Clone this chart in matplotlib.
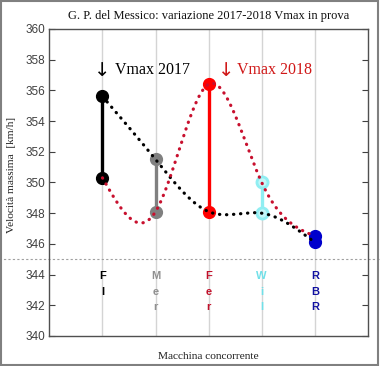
import numpy as np
import matplotlib
matplotlib.use("Agg")
import matplotlib.pyplot as plt
from matplotlib.patches import Rectangle

# dati
teams     = ["FI", "Mer", "Fer", "Wil", "RBR"]
colori    = ["#000000", "#808080", "#ff0000", "#90eef2", "#0000cc"]
label_col = ["#000000", "#909090", "#c0102a", "#70e0e8", "#1010a0"]
v2017     = [355.6, 351.5, 348.1, 348.0, 346.1]
v2018     = [350.3, 348.1, 356.4, 350.0, 346.5]

SERIF = ["Liberation Serif", "DejaVu Serif"]
SANS  = "Liberation Sans"


def spline_nat(x, y, xs):
    # spline cubica naturale (derivata seconda nulla agli estremi)
    x = np.asarray(x, float); y = np.asarray(y, float)
    n = len(x)
    h = np.diff(x)
    A = np.zeros((n, n)); b = np.zeros(n)
    A[0, 0] = A[-1, -1] = 1
    for i in range(1, n-1):
        A[i, i-1] = h[i-1]; A[i, i] = 2*(h[i-1]+h[i]); A[i, i+1] = h[i]
        b[i] = 6*((y[i+1]-y[i])/h[i] - (y[i]-y[i-1])/h[i-1])
    M = np.linalg.solve(A, b)
    k = np.clip(np.searchsorted(x, xs) - 1, 0, n-2)
    hk = h[k]; a = x[k+1] - xs; c = xs - x[k]
    return (M[k]*a**3 + M[k+1]*c**3)/(6*hk) + (y[k]/hk - M[k]*hk/6)*a \
        + (y[k+1]/hk - M[k+1]*hk/6)*c


fig = plt.figure(figsize=(3.8, 3.66), dpi=100)
ax = fig.add_axes([0.130, 0.082, 0.838, 0.839])

xp = np.arange(1, len(teams)+1)
xs = np.linspace(1, len(teams), 300)

for xi in xp:
    ax.axvline(xi, color="#d4d4d4", lw=1.0, zorder=0)

ax.plot([-1, 7], [345, 345], color="#a0a0a0", lw=0.8, ls=(0, (2, 2)),
        clip_on=False, zorder=1)

for xi, a, b_, c in zip(xp, v2017, v2018, colori):
    ax.plot([xi, xi], [a, b_], color=c, lw=2.4, zorder=2)
    if c == "#90eef2":
        ax.plot([xi, xi], [a, b_], "o", ms=8, mfc="#c4f6f8", mec=c, mew=2, zorder=3)
    else:
        ax.plot([xi, xi], [a, b_], "o", ms=8.5, color=c, zorder=3)

dot = (0, (0.1, 2.1))
ax.plot(xs, spline_nat(xp, v2017, xs), color="#000000", lw=2.3, ls=dot,
        dash_capstyle="round", zorder=4)
ax.plot(xs, spline_nat(xp, v2018, xs), color="#c8102e", lw=2.3, ls=dot,
        dash_capstyle="round", zorder=4)

# nomi delle squadre in verticale
for xi, t, c in zip(xp, teams, label_col):
    for j, ch in enumerate(t):
        ax.text(xi, 343.9 - 1.02*j, ch, color=c, fontsize=8, fontweight="bold",
                family=SANS, ha="center", va="center")

# frecce e scritte Vmax
ax.text(1, 357.3, "↓", color="#000000", fontsize=14, family="DejaVu Sans",
        ha="center", va="center")
ax.text(1.23, 357.35, "Vmax 2017", color="#000000", fontsize=11.5, family=SERIF,
        ha="left", va="center")
ax.text(3.34, 357.3, "↓", color="#d01818", fontsize=14, family="DejaVu Sans",
        ha="center", va="center")
ax.text(3.54, 357.35, "Vmax 2018", color="#d01818", fontsize=11.5, family=SERIF,
        ha="left", va="center")

ax.set_xlim(0, 6)
ax.set_ylim(340, 360)
ax.set_xticks(xp)
ax.set_xticklabels([])
ax.set_yticks(np.arange(340, 361, 2))
ax.tick_params(axis="x", length=0)
ax.tick_params(axis="y", direction="in", length=4, right=True, colors="#404040",
               labelsize=8.5, pad=3)
for lb in ax.get_yticklabels():
    lb.set_family(SANS)
for sp in ax.spines.values():
    sp.set_color("#505050")
    sp.set_linewidth(1.0)

ax.set_title("G. P. del Messico: variazione 2017-2018 Vmax in prova",
             family=SERIF, fontsize=9, color="#101010", pad=7)
ax.set_ylabel("Velocità massima  [km/h]", family=SERIF, fontsize=8.2, color="#202020")
ax.yaxis.set_label_coords(-0.118, 0.524)
ax.yaxis.label.set_va("center")
ax.set_xlabel("Macchina concorrente", family=SERIF, fontsize=8.2, color="#202020")
ax.xaxis.set_label_coords(0.5, -0.068)
ax.xaxis.label.set_va("center")

fig.add_artist(Rectangle((0.002, 0.003), 0.994, 0.993, transform=fig.transFigure,
                         fill=False, ec="#808080", lw=1.5))

fig.savefig("out.png", dpi=100)
